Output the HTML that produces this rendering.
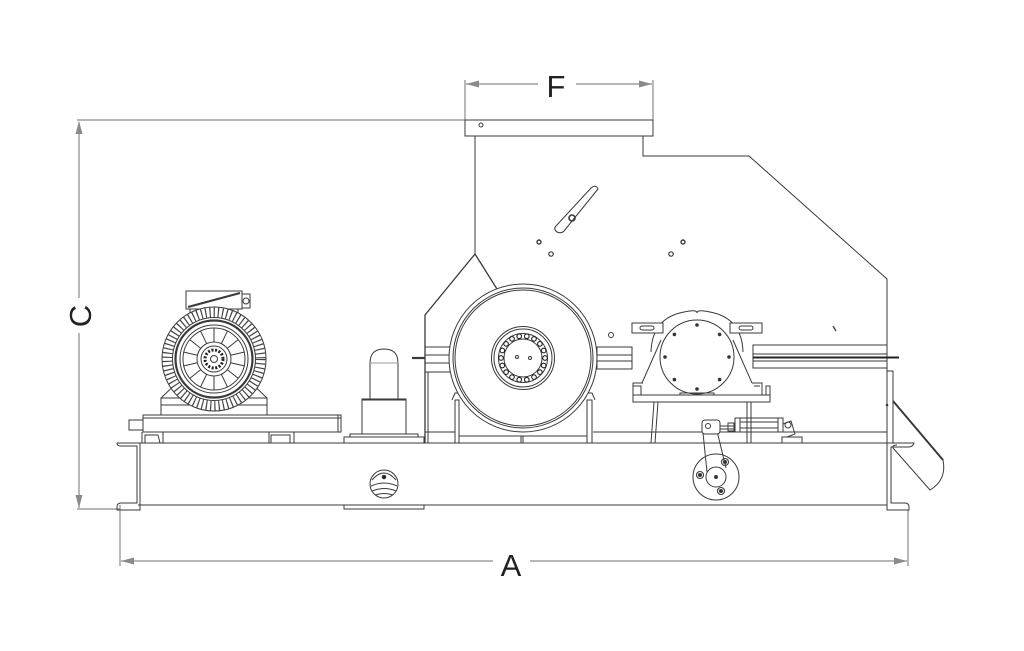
<!DOCTYPE html>
<html><head><meta charset="utf-8"><style>
html,body{margin:0;padding:0;background:#fff;}
svg{display:block;}
text{font-family:"Liberation Sans",sans-serif;fill:#222;}
</style></head><body>
<svg width="1024" height="651" viewBox="0 0 1024 651" xmlns="http://www.w3.org/2000/svg">
<rect width="1024" height="651" fill="#fff"/>
<!-- DIMENSIONS -->
<g stroke="#8a8a8a" stroke-width="1.2" fill="none">
  <line x1="77" y1="120" x2="465" y2="120"/>
  <line x1="77" y1="509" x2="120" y2="509"/>
  <line x1="79" y1="122" x2="79" y2="298"/>
  <line x1="79" y1="333" x2="79" y2="508"/>
  <line x1="120" y1="505" x2="120" y2="566"/>
  <line x1="908" y1="510" x2="908" y2="566"/>
  <line x1="121" y1="561" x2="493" y2="561"/>
  <line x1="530" y1="561" x2="907" y2="561"/>
  <line x1="465" y1="80" x2="465" y2="120"/>
  <line x1="653" y1="80" x2="653" y2="120"/>
  <line x1="466" y1="84" x2="538" y2="84"/>
  <line x1="576" y1="84" x2="652" y2="84"/>
</g>
<g fill="#8a8a8a">
  <polygon points="79,121 75.5,134 82.5,134"/>
  <polygon points="79,508 75.5,495 82.5,495"/>
  <polygon points="121,561 134,557.5 134,564.5"/>
  <polygon points="907,561 894,557.5 894,564.5"/>
  <polygon points="466,84 479,80.5 479,87.5"/>
  <polygon points="652,84 639,80.5 639,87.5"/>
</g>
<text x="556" y="97" font-size="31" text-anchor="middle">F</text>
<text x="511" y="576" font-size="31" text-anchor="middle">A</text>
<text x="0" y="0" font-size="31" text-anchor="middle" transform="translate(91,316) rotate(-90)">C</text>

<g stroke="#3a3a3a" stroke-width="1" fill="none">
<!-- HOPPER / HOUSING -->
<rect x="465" y="120" width="188" height="16"/>
<circle cx="481" cy="125" r="2"/>
<line x1="475" y1="136" x2="475" y2="254"/>
<polyline points="643,136 643,156 749,156 887,279 887,443"/>
<path d="M425,443 V315 L475,254 L497,289" stroke-width="1.3"/>
<line x1="428" y1="372" x2="428" y2="443"/>
<!-- slot and holes -->
<path d="M557,232 Q553,229 556,226 L591,188 Q596,184 598,189 L564,231 Q561,234 557,232 Z"/>
<circle cx="572" cy="218" r="3" stroke-width="1.6"/>
<circle cx="539" cy="242" r="2" stroke-width="1.4"/>
<circle cx="551" cy="254" r="2.2" stroke-width="1.2"/>
<circle cx="683" cy="242" r="2" stroke-width="1.4"/>
<circle cx="671" cy="254" r="2.2" stroke-width="1.2"/>
<circle cx="611" cy="335" r="2.5"/>
<line x1="833" y1="326" x2="836" y2="331" stroke-width="1.3"/>

<!-- BASE FRAME -->
<line x1="138" y1="443" x2="887" y2="443"/>
<line x1="138" y1="505" x2="887" y2="505"/>
<rect x="344" y="505" width="80" height="4"/>
<path d="M117,443 H140 M117,443 Q117,446 121,446 H137 V503 H121 Q117,503 117,507 V510 H140 V443"/>
<path d="M887,443 H914 Q913,447 908,447 H891 V503 H905 Q909,503 909,507 V510 H887 Z"/>
<rect x="887" y="371" width="6" height="72"/>

<!-- MOTOR BASE -->
<rect x="143" y="415" width="198" height="17"/>
<line x1="143" y1="418" x2="341" y2="418"/>
<line x1="338" y1="415" x2="338" y2="432"/>
<rect x="129" y="420" width="14" height="10"/>
<path d="M142,443 V432 M145,443 V435 H158 L160,443 M163,443 V432"/>
<path d="M269,443 V432 M271,443 V435 H290 V443 M294,443 V432"/>

<!-- MOTOR -->
<rect x="186" y="291" width="56" height="18"/>
<line x1="188" y1="307" x2="240" y2="293" stroke-width="2.2"/>
<rect x="242" y="294" width="8" height="14"/>
<circle cx="246" cy="301" r="3"/>
<line x1="190" y1="309" x2="190" y2="318"/>
<line x1="238" y1="309" x2="238" y2="318"/>
<rect x="161" y="398" width="106" height="17"/>
<line x1="161" y1="405" x2="267" y2="405"/>
<line x1="161" y1="398" x2="182" y2="378"/>
<line x1="267" y1="398" x2="246" y2="378"/>
<line x1="180" y1="385" x2="180" y2="398"/>
<line x1="248" y1="385" x2="248" y2="398"/>
<circle cx="214" cy="359" r="52" fill="#fff"/>
<circle cx="214" cy="359" r="46.5" stroke="#444" stroke-width="10" stroke-dasharray="1.2 3"/>
<circle cx="214" cy="359" r="41.5" fill="#fff"/>
<circle cx="214" cy="359" r="38.5" stroke-width="2.2"/>
<circle cx="214" cy="359" r="34"/>
<circle cx="214" cy="359" r="31"/>
<circle cx="214" cy="359" r="17"/>
<g id="spk">
<line x1="214" y1="342" x2="214" y2="328"/>
</g>
<use href="#spk" transform="rotate(25.7 214 359)"/>
<use href="#spk" transform="rotate(51.4 214 359)"/>
<use href="#spk" transform="rotate(77.1 214 359)"/>
<use href="#spk" transform="rotate(102.9 214 359)"/>
<use href="#spk" transform="rotate(128.6 214 359)"/>
<use href="#spk" transform="rotate(154.3 214 359)"/>
<use href="#spk" transform="rotate(180 214 359)"/>
<use href="#spk" transform="rotate(205.7 214 359)"/>
<use href="#spk" transform="rotate(231.4 214 359)"/>
<use href="#spk" transform="rotate(257.1 214 359)"/>
<use href="#spk" transform="rotate(282.9 214 359)"/>
<use href="#spk" transform="rotate(308.6 214 359)"/>
<use href="#spk" transform="rotate(334.3 214 359)"/>
<circle cx="214" cy="359" r="13"/>
<circle cx="214" cy="359" r="9" stroke="#222" stroke-width="3" stroke-dasharray="2 1.6"/>
<circle cx="214" cy="359" r="3.5"/>

<!-- PUMP PILLAR -->
<path d="M370,399 V363 Q370,349 384,349 Q398,349 398,363 V399"/>
<line x1="370" y1="363" x2="398" y2="363" stroke="#999"/>
<rect x="362" y="399" width="44" height="35"/>
<line x1="362" y1="400" x2="406" y2="400"/>
<rect x="350" y="434" width="68" height="3"/>
<rect x="344" y="437" width="80" height="6"/>
<!-- knob -->
<circle cx="384" cy="484" r="14"/>
<circle cx="384" cy="477" r="1.8" fill="#222"/>
<path d="M372,480 Q384,466 396,480 M371,486 Q384,480 397,486 M372,491 Q384,486 396,491 M375,495 Q384,492 393,495"/>

<!-- CRUSHER FRAME LEFT -->
<rect x="425" y="347" width="25" height="25"/>
<line x1="425" y1="355" x2="450" y2="355"/>
<line x1="425" y1="363" x2="450" y2="363"/>
<line x1="412" y1="358" x2="425" y2="358" stroke-width="2.2"/>
<line x1="425" y1="432" x2="455" y2="432"/>
<!-- supports -->
<path d="M455,443 V400 H459 V443 M452,400 L455,393 L461,393"/>
<path d="M587,443 V400 H592 V443 M595,400 L592,393 L586,393"/>
<line x1="459" y1="436" x2="587" y2="436"/>
<line x1="523" y1="436" x2="523" y2="443"/>
<line x1="521" y1="436" x2="521" y2="443"/>

<!-- FLYWHEEL -->
<circle cx="523" cy="358" r="74" fill="#fff"/>
<circle cx="523" cy="358" r="70"/>
<circle cx="523" cy="358" r="68"/>
<circle cx="523" cy="358" r="31.5"/>
<circle cx="523" cy="358" r="29"/>
<circle cx="523" cy="358" r="24.5"/>
<circle cx="523" cy="358" r="19"/>
<g stroke="#222" stroke-width="1.1">
<circle cx="545" cy="358" r="2.3"/><circle cx="543.7" cy="365.5" r="2.3"/><circle cx="539.9" cy="372.1" r="2.3"/>
<circle cx="534" cy="377.1" r="2.3"/><circle cx="526.8" cy="379.7" r="2.3"/><circle cx="519.2" cy="379.7" r="2.3"/>
<circle cx="512" cy="377.1" r="2.3"/><circle cx="506.1" cy="372.1" r="2.3"/><circle cx="502.3" cy="365.5" r="2.3"/>
<circle cx="501" cy="358" r="2.3"/><circle cx="502.3" cy="350.5" r="2.3"/><circle cx="506.1" cy="343.9" r="2.3"/>
<circle cx="512" cy="338.9" r="2.3"/><circle cx="519.2" cy="336.3" r="2.3"/><circle cx="526.8" cy="336.3" r="2.3"/>
<circle cx="534" cy="338.9" r="2.3"/><circle cx="539.9" cy="343.9" r="2.3"/><circle cx="543.7" cy="350.5" r="2.3"/>
</g>
<circle cx="517" cy="357" r="1.5"/>
<circle cx="530" cy="358" r="1.5"/>
<!-- right shaft -->
<rect x="597" y="347" width="35" height="22"/>
<line x1="597" y1="355" x2="632" y2="355"/>
<line x1="597" y1="361" x2="632" y2="361"/>

<!-- PILLOW BLOCK -->
<path d="M651,352 Q652,318 684,312 Q697,309 697,313 Q697,309 710,312 Q742,318 743,352"/>
<rect x="632" y="323" width="31" height="10" fill="#fff"/>
<rect x="730" y="323" width="32" height="10" fill="#fff"/>
<rect x="640" y="326" width="14" height="4" rx="2"/>
<rect x="739" y="326" width="14" height="4" rx="2"/>
<line x1="642" y1="383" x2="661" y2="340"/>
<line x1="752" y1="383" x2="733" y2="340"/>
<circle cx="697" cy="357" r="37" fill="#fff"/>
<g fill="#333" stroke="none">
<circle cx="697" cy="325" r="1.8"/><circle cx="719.6" cy="334.4" r="1.8"/><circle cx="729" cy="357" r="1.8"/>
<circle cx="719.6" cy="379.6" r="1.8"/><circle cx="697" cy="389" r="1.8"/><circle cx="674.4" cy="379.6" r="1.8"/>
<circle cx="665" cy="357" r="1.8"/><circle cx="674.4" cy="334.4" r="1.8"/>
</g>
<rect x="680" y="393" width="34" height="2"/>
<path d="M633,395 V383 H643 M633,386 H641 V395 M752,383 H762 V395 M754,386 H760"/>
<line x1="643" y1="395" x2="752" y2="395"/>
<rect x="766" y="386" width="4" height="9"/>
<rect x="633" y="395" width="137" height="7"/>
<path d="M654,402 L651,443 M658,402 L655,443"/>
<path d="M747,402 V443 M751,402 V443"/>
<line x1="593" y1="432" x2="887" y2="432"/>
<!-- right tube -->
<rect x="753" y="345" width="134" height="23"/>
<line x1="753" y1="354" x2="887" y2="354"/>
<line x1="753" y1="361" x2="887" y2="361"/>
<line x1="753" y1="357.5" x2="899" y2="357.5" stroke="#222" stroke-width="2"/>

<!-- CRANK & CYLINDER -->
<circle cx="716" cy="477" r="23" fill="#fff"/>
<circle cx="716" cy="477" r="10"/>
<circle cx="716" cy="477" r="1.5" fill="#333"/>
<path d="M703,433 L707,472 M717,431 L726,468"/>
<rect x="702" y="420" width="18" height="14" rx="3" fill="#fff"/>
<circle cx="708" cy="426" r="2.5"/>
<line x1="720" y1="426" x2="735" y2="426"/>
<line x1="720" y1="429" x2="735" y2="429"/>
<rect x="728" y="423" width="6" height="8"/>
<rect x="735" y="418" width="48" height="14"/>
<line x1="740" y1="418" x2="740" y2="432"/>
<line x1="778" y1="418" x2="778" y2="432"/>
<line x1="740" y1="422" x2="778" y2="422"/>
<line x1="740" y1="428" x2="778" y2="428"/>
<circle cx="788" cy="425" r="3"/>
<path d="M783,424 L791,421 L795,434 L787,437"/>
<rect x="782" y="437" width="20" height="6"/>
<g stroke-width="1.1">
<circle cx="725" cy="462" r="3.5"/><circle cx="725" cy="462" r="1.5" fill="#333"/>
<circle cx="700" cy="475" r="3.5"/><circle cx="700" cy="475" r="1.5" fill="#333"/>
<circle cx="721" cy="491" r="3.5"/><circle cx="721" cy="491" r="1.5" fill="#333"/>
</g>

<!-- CHUTE -->
<line x1="893" y1="401" x2="943" y2="460" stroke-width="2"/>
<path d="M943,460 Q947,480 930,490 L893,448 Q892,445 897,445"/>
<circle cx="887" cy="405" r="0.8" fill="#333"/>
</g>
</svg>
</body></html>
